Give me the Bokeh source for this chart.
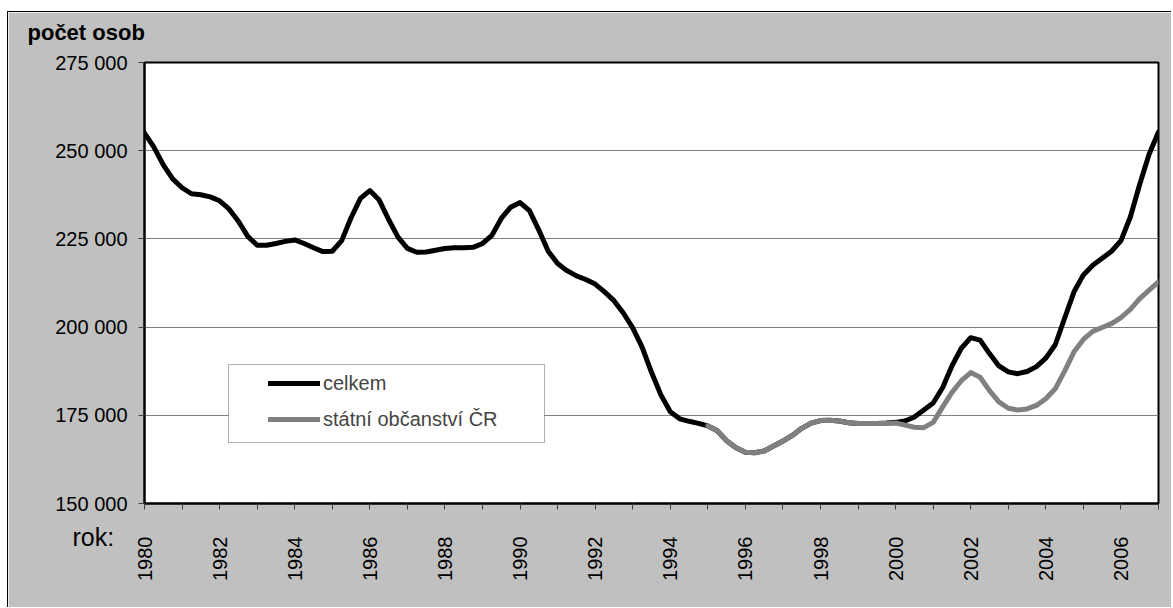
import math
from bokeh.plotting import figure
from bokeh.models import (Range1d, FixedTicker, BoxAnnotation, Legend, LegendItem, Title)
from bokeh.embed import file_html
from bokeh.resources import INLINE

# ---- data (quarterly) ----
celkem = [
    255000, 251000, 246000, 242000,   # 1980
    239500, 237800, 237500, 236900,   # 1981
    235800, 233500, 230000, 225700,   # 1982
    223200, 223200, 223700, 224300,   # 1983
    224700, 223700, 222500, 221400,   # 1984
    221500, 224500, 231000, 236500,   # 1985
    238700, 236000, 230500, 225500,   # 1986
    222300, 221200, 221300, 221800,   # 1987
    222300, 222500, 222500, 222600,   # 1988
    223700, 226000, 230800, 234000,   # 1989
    235300, 233000, 227500, 221500,   # 1990
    218000, 216000, 214500, 213500,   # 1991
    212200, 210000, 207500, 204000,   # 1992
    199800, 194300, 187200, 180800,   # 1993
    176000, 174000, 173300, 172700,   # 1994
    172000, 170600, 167800, 165800,   # 1995
    164500, 164400, 164900, 166300,   # 1996
    167700, 169300, 171300, 172800,   # 1997
    173500, 173600, 173400, 172900,   # 1998
    172700, 172700, 172700, 172800,   # 1999
    173000, 173400, 174500, 176500,   # 2000
    178500, 182800, 189000, 194000,   # 2001
    197000, 196300, 192500, 189000,   # 2002
    187300, 186800, 187400, 188800,   # 2003
    191200, 195000, 202500, 210000,   # 2004
    214800, 217500, 219500, 221500,   # 2005
    224500, 231200, 240500, 249000,   # 2006
    255300,                           # 2007
]
celkem_start = 1980

statni_obcanstvi_cr = [
    172000, 170600, 167800, 165800,   # 1995
    164500, 164400, 164900, 166300,   # 1996
    167700, 169300, 171300, 172800,   # 1997
    173500, 173600, 173400, 172900,   # 1998
    172700, 172700, 172700, 172700,   # 1999
    172800, 172200, 171600, 171500,   # 2000
    173000, 177300, 181500, 184800,   # 2001
    187100, 185800, 182000, 178800,   # 2002
    177000, 176500, 176800, 177800,   # 2003
    179700, 182500, 187500, 193000,   # 2004
    196500, 198800, 199900, 201000,   # 2005
    202700, 205000, 208100, 210500,   # 2006
    212800,                           # 2007
]
cr_start = 1995

series_names = ["celkem", "státní občanství ČR"]
y_title = "počet osob"
x_title = "rok:"
y_ticks = [150000, 175000, 200000, 225000, 250000, 275000]
y_tick_labels = ["150 000", "175 000", "200 000", "225 000", "250 000", "275 000"]
x_ticks = list(range(1980, 2008))
x_tick_labels = {y: (str(y) if y % 2 == 0 and y < 2007 else "") for y in x_ticks}

x_celkem = [celkem_start + i / 4 for i in range(len(celkem))]
x_cr = [cr_start + i / 4 for i in range(len(statni_obcanstvi_cr))]

FONT = "Liberation Sans"
GRAY_BG = "#C0C0C0"

p = figure(width=1164, height=596, output_backend="svg", toolbar_location=None,
           x_range=Range1d(1980, 2007), y_range=Range1d(150000, 275000),
           min_border_left=136, min_border_top=50, min_border_right=14, min_border_bottom=105,
           margin=(11, 0, 0, 7),
           styles={"border-top": "1px solid black", "border-left": "1px solid black"})
p.border_fill_color = GRAY_BG
p.background_fill_color = "white"
p.outline_line_color = "black"
p.outline_line_width = 2

# title (top-left); a blank second line keeps the title panel short while lifting the text
p.title.text = y_title + "\n\u00a0"
p.title.align = "left"
p.title.vertical_align = "top"
p.title.offset = -117
p.title.standoff = -18
p.title.text_font = FONT
p.title.text_font_size = "22px"
p.title.text_font_style = "bold"
p.title.text_color = "black"

# axes
p.yaxis.ticker = FixedTicker(ticks=y_ticks)
p.yaxis.major_label_overrides = {t: l for t, l in zip(y_ticks, y_tick_labels)}
p.xaxis.ticker = FixedTicker(ticks=x_ticks)
p.xaxis.major_label_overrides = x_tick_labels
p.xaxis.major_label_orientation = math.pi / 2
for ax in (p.xaxis, p.yaxis):
    ax.axis_line_color = "black"
    ax.axis_line_width = 2
    ax.major_tick_line_color = "#404040"
    ax.major_tick_in = 0
    ax.major_tick_out = 6
    ax.minor_tick_line_color = None
    ax.major_label_text_font = FONT
    ax.major_label_text_color = "black"
p.yaxis.major_label_text_font_size = "20px"
p.xaxis.major_label_text_font_size = "20px"
p.yaxis.major_label_standoff = 11
p.xaxis.major_label_standoff = 27

p.xgrid.grid_line_color = None
p.ygrid.grid_line_color = "#808080"
p.ygrid.grid_line_width = 1

r1 = p.line(x_celkem, celkem, line_color="black", line_width=5, line_join="round", line_cap="round")
r2 = p.line(x_cr, statni_obcanstvi_cr, line_color="#808080", line_width=5, line_join="round", line_cap="round")

# legend box
box = BoxAnnotation(left=84, right=400, bottom=61, top=139,
                    left_units="screen", right_units="screen", top_units="screen", bottom_units="screen",
                    fill_color="white", fill_alpha=1, line_color="black", line_width=1)
p.add_layout(box)

legend = Legend(items=[LegendItem(label=series_names[0], renderers=[r1]),
                       LegendItem(label=series_names[1], renderers=[r2])],
                location=(124, 69), padding=0, margin=0, spacing=6,
                glyph_width=52, glyph_height=30, label_height=30, label_standoff=3,
                border_line_alpha=0, background_fill_alpha=0,
                label_text_font=FONT, label_text_font_size="20px")
p.add_layout(legend)

# x caption "rok:" as a title in the panel below the x axis, pulled up beside the first tick label
cap = Title(text=x_title, align="left", offset=-72, vertical_align="top", standoff=-122,
            text_font=FONT, text_font_size="25px", text_font_style="normal", text_color="black")
p.add_layout(cap, "below")

open("out.html", "w").write(file_html(p, INLINE))
